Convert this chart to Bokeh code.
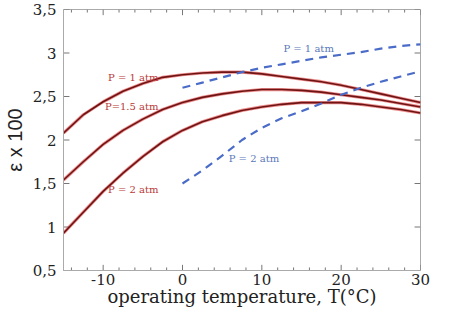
from bokeh.plotting import figure
from bokeh.models import Label, FixedTicker, Range1d, CustomJSTickFormatter
from bokeh.embed import file_html
from bokeh.resources import INLINE

# ---- data ----
temp = [-15, -12.5, -10, -7.5, -5, -2.5, 0, 2.5, 5, 7.5, 10, 12.5, 15, 17.5, 20, 22.5, 25, 27.5, 30]
eps_p1 = [2.08, 2.29, 2.44, 2.56, 2.65, 2.72, 2.75, 2.77, 2.78, 2.78, 2.76, 2.73, 2.70, 2.67, 2.63, 2.58, 2.53, 2.48, 2.43]
eps_p15 = [1.54, 1.75, 1.95, 2.11, 2.24, 2.35, 2.43, 2.49, 2.53, 2.56, 2.58, 2.58, 2.57, 2.55, 2.52, 2.49, 2.46, 2.42, 2.38]
eps_p2 = [0.93, 1.17, 1.41, 1.62, 1.81, 1.98, 2.11, 2.21, 2.28, 2.34, 2.38, 2.41, 2.43, 2.43, 2.43, 2.41, 2.38, 2.35, 2.31]

temp_d = [0, 2.5, 5, 7.5, 10, 12.5, 15, 17.5, 20, 22.5, 25, 27.5, 30]
eps_d1 = [2.60, 2.66, 2.72, 2.78, 2.83, 2.87, 2.91, 2.95, 2.98, 3.01, 3.05, 3.08, 3.10]
eps_d2 = [1.50, 1.65, 1.82, 2.00, 2.14, 2.25, 2.33, 2.42, 2.52, 2.60, 2.67, 2.73, 2.79]

X_MIN, X_MAX = -15, 30
Y_MIN, Y_MAX = 0.5, 3.5
x_ticks = [-10, 0, 10, 20, 30]
x_minor = [-14, -12, -8, -6, -4, -2, 2, 4, 6, 8, 12, 14, 16, 18, 22, 24, 26, 28]
y_ticks = [0.5, 1, 1.5, 2, 2.5, 3, 3.5]

x_title = "operating temperature, T(°C)"
y_title = "ε x 100"

labels_red = [("P = 1 atm", -6.2, 2.72), ("P=1.5 atm", -6.4, 2.39), ("P = 2 atm", -6.2, 1.43)]
labels_blue = [("P = 1 atm", 15.9, 3.05), ("P = 2 atm", 9.0, 1.79)]

RED_CORE = "#6e1414"
RED_GLOW = "#e03030"
BLUE = "#4a6cc8"
RED_TXT = "#b83838"
BLUE_TXT = "#5a78b8"
TICK = "#777777"
FRAME = "#aaaaaa"

# tick lengths (style), in data units
XT_MAJ, XT_MIN = 0.065, 0.035   # vertical ticks on top/bottom edges
YT_MAJ = 0.75                   # horizontal ticks on left/right edges

p = figure(width=440, height=309, x_range=Range1d(X_MIN, X_MAX), y_range=Range1d(Y_MIN, Y_MAX),
           output_backend="svg", toolbar_location=None,
           min_border_left=54, min_border_top=9, min_border_right=20, min_border_bottom=30)
p.grid.visible = False
p.outline_line_color = FRAME
p.background_fill_color = "white"
p.border_fill_color = "white"

fmt = CustomJSTickFormatter(code="return tick.toString().replace('.', ',');")

for ax in (p.xaxis[0], p.yaxis[0]):
    ax.axis_line_color = FRAME
    ax.major_tick_in = 0
    ax.major_tick_out = 0
    ax.minor_tick_in = 0
    ax.minor_tick_out = 0
    ax.formatter = fmt
    ax.major_label_text_font = "DejaVu Serif"
    ax.major_label_text_font_size = "15px"
    ax.major_label_text_color = "#222222"
    ax.axis_label_text_font_style = "normal"
    ax.axis_label_text_color = "#222222"

xa = p.xaxis[0]
xa.ticker = FixedTicker(ticks=x_ticks, minor_ticks=x_minor)
xa.major_label_standoff = 3
xa.axis_label = x_title
xa.axis_label_text_font = "DejaVu Serif"
xa.axis_label_text_font_size = "18px"
xa.axis_label_standoff = -2

ya = p.yaxis[0]
ya.ticker = FixedTicker(ticks=y_ticks, minor_ticks=[])
ya.major_label_standoff = 7
ya.axis_label = y_title
ya.axis_label_text_font = "Liberation Sans"
ya.axis_label_text_font_size = "20px"
ya.axis_label_standoff = 4

# inward ticks on all four sides
nx, nxm, ny = len(x_ticks), len(x_minor), len(y_ticks)
seg_kw = dict(line_color=TICK, line_width=1)
p.segment(x0=x_ticks, y0=[Y_MIN] * nx, x1=x_ticks, y1=[Y_MIN + XT_MAJ] * nx, **seg_kw)
p.segment(x0=x_ticks, y0=[Y_MAX] * nx, x1=x_ticks, y1=[Y_MAX - XT_MAJ] * nx, **seg_kw)
p.segment(x0=x_minor, y0=[Y_MIN] * nxm, x1=x_minor, y1=[Y_MIN + XT_MIN] * nxm, **seg_kw)
p.segment(x0=x_minor, y0=[Y_MAX] * nxm, x1=x_minor, y1=[Y_MAX - XT_MIN] * nxm, **seg_kw)
p.segment(x0=[X_MIN] * ny, y0=y_ticks, x1=[X_MIN + YT_MAJ] * ny, y1=y_ticks, **seg_kw)
p.segment(x0=[X_MAX] * ny, y0=y_ticks, x1=[X_MAX - YT_MAJ] * ny, y1=y_ticks, **seg_kw)

for ys in (eps_p1, eps_p15, eps_p2):
    p.line(temp, ys, line_color=RED_GLOW, line_width=3.2, line_alpha=0.55)
    p.line(temp, ys, line_color=RED_CORE, line_width=1.6)

for ys in (eps_d1, eps_d2):
    p.line(temp_d, ys, line_color=BLUE, line_width=2.2, line_dash="8 6")

for txt, x, y in labels_red:
    p.add_layout(Label(x=x, y=y, text=txt, text_align="center", text_baseline="middle",
                       text_font="DejaVu Serif", text_font_size="10px", text_color=RED_TXT))
for txt, x, y in labels_blue:
    p.add_layout(Label(x=x, y=y, text=txt, text_align="center", text_baseline="middle",
                       text_font="DejaVu Serif", text_font_size="10px", text_color=BLUE_TXT))

open("out.html", "w").write(file_html(p, INLINE))
